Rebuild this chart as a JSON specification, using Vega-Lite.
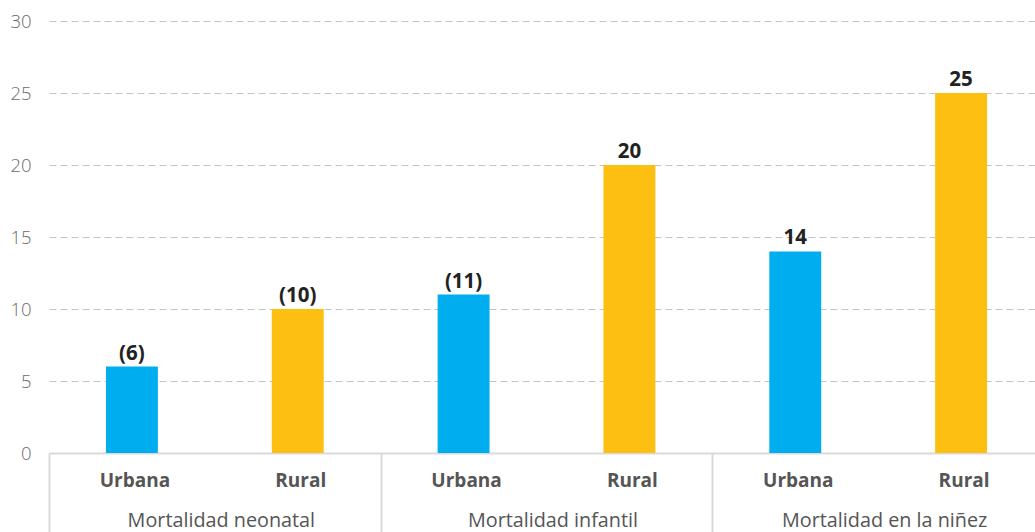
{
  "$schema": "https://vega.github.io/schema/vega-lite/v6.json",
  "width": 986,
  "height": 432,
  "autosize": {"type": "none"},
  "padding": {"left": 49, "top": 21, "right": 0, "bottom": 79},
  "config": {"view": {"stroke": null}, "font": "Open Sans"},
  "data": {
    "values": [
      {"grupo": "Mortalidad neonatal", "area": "Urbana", "valor": 6, "etiqueta": "(6)"},
      {"grupo": "Mortalidad neonatal", "area": "Rural", "valor": 10, "etiqueta": "(10)"},
      {"grupo": "Mortalidad infantil", "area": "Urbana", "valor": 11, "etiqueta": "(11)"},
      {"grupo": "Mortalidad infantil", "area": "Rural", "valor": 20, "etiqueta": "20"},
      {"grupo": "Mortalidad en la niñez", "area": "Urbana", "valor": 14, "etiqueta": "14"},
      {"grupo": "Mortalidad en la niñez", "area": "Rural", "valor": 25, "etiqueta": "25"}
    ]
  },
  "encoding": {
    "x": {
      "field": "grupo",
      "type": "nominal",
      "sort": null,
      "scale": {"range": [0, 995], "paddingInner": 0, "paddingOuter": 0},
      "axis": {
        "title": null,
        "labelAngle": 0,
        "grid": false,
        "ticks": true,
        "tickBand": "extent",
        "tickSize": 79,
        "tickColor": "#d9d9d9",
        "tickWidth": 2,
        "domainColor": "#d9d9d9",
        "domainWidth": 2,
        "labelFont": "Open Sans",
        "labelFontSize": 19.8,
        "labelLimit": 0,
        "labelColor": "#555555",
        "labelBaseline": "alphabetic",
        "labelPadding": -6,
        "labelOffset": 6
      }
    },
    "xOffset": {
      "field": "area",
      "type": "nominal",
      "sort": ["Urbana", "Rural"],
      "scale": {"paddingInner": 0.687, "paddingOuter": 0.3435}
    },
    "y": {
      "field": "valor",
      "type": "quantitative",
      "scale": {"domain": [0, 30]},
      "axis": {
        "title": null,
        "values": [0, 5, 10, 15, 20, 25, 30],
        "domain": false,
        "ticks": false,
        "tickSize": 0,
        "grid": true,
        "gridColor": "#c4c4c4",
        "gridDash": [7, 4],
        "gridWidth": 1,
        "labelFont": "Open Sans",
        "labelFontSize": 18.5,
        "labelFontWeight": 300,
        "labelColor": "#6b6b6b",
        "labelPadding": 18
      }
    }
  },
  "layer": [
    {
      "mark": {"type": "bar"},
      "encoding": {
        "color": {
          "field": "area",
          "type": "nominal",
          "scale": {"domain": ["Urbana", "Rural"], "range": ["#00AEEF", "#FCBF12"]},
          "legend": null
        }
      }
    },
    {
      "mark": {"type": "text", "font": "Open Sans", "fontSize": 20.5, "fontWeight": "bold", "color": "#222222", "baseline": "alphabetic", "dy": -7},
      "encoding": {"text": {"field": "etiqueta"}}
    },
    {
      "mark": {"type": "text", "font": "Open Sans", "fontSize": 19, "fontWeight": "bold", "color": "#555555", "baseline": "alphabetic", "dy": 34, "dx": 3},
      "encoding": {"text": {"field": "area"}, "y": {"datum": 0}}
    }
  ]
}
